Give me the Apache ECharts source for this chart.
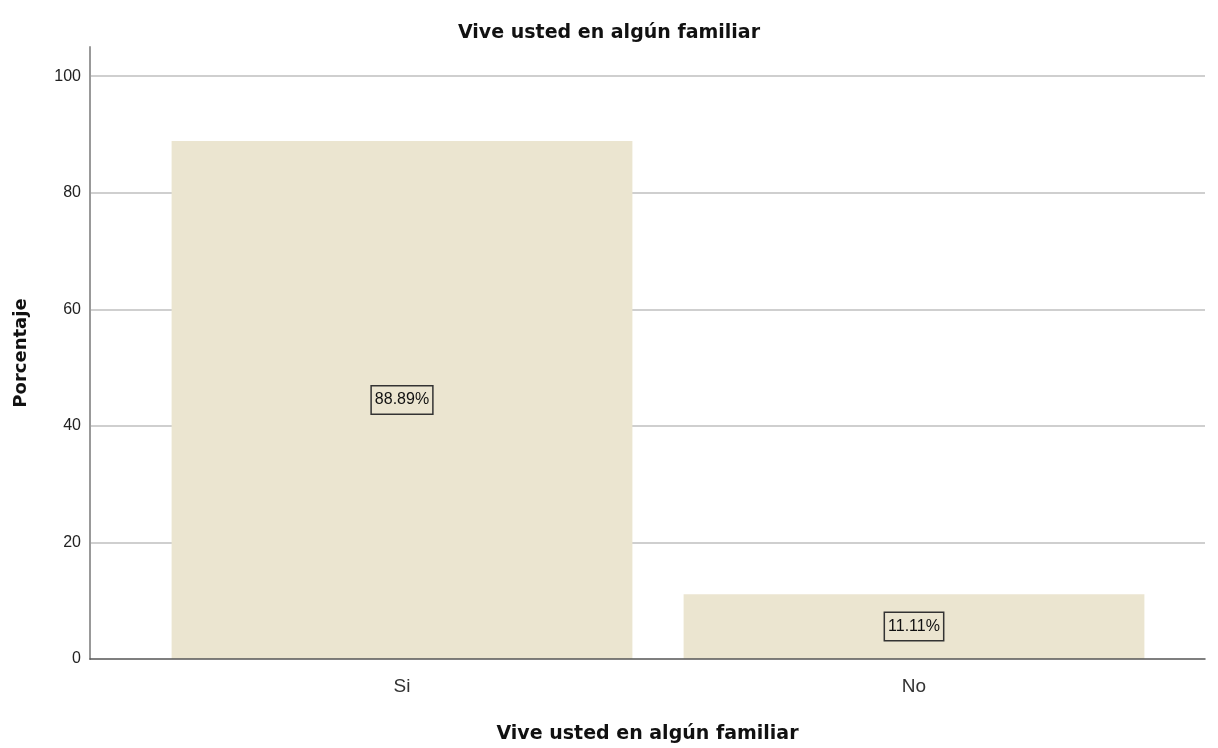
<!DOCTYPE html>
<html>
<head>
<meta charset="utf-8">
<script src="https://cdn.jsdelivr.net/npm/echarts@6/dist/echarts.min.js"></script>
<style>
    html, body { margin: 0; padding: 0; background: #fff; }
    #chart { width: 1218px; height: 748px; }
</style>
</head>
<body>
<div id="chart"></div>
<script>
const categories = ["Si", "No"];
const percentValues = [88.89, 11.11];
const yTicks = [0, 20, 40, 60, 80, 100];

const titleText = "Vive usted en algún familiar";
const yName = "Porcentaje";
const font = "'Liberation Sans', Arial, sans-serif";
const boldFont = "'DejaVu Sans', sans-serif";
const barColor = "#ebe5d0";
const yMax = 105;

const myChart = echarts.init(document.getElementById("chart"));

let option = {
    animation: false,
    textStyle: { fontFamily: font },
    title: {
        text: titleText,
        left: "center",
        top: 19,
        textStyle: { fontSize: 19, fontWeight: "bold", color: "#111", fontFamily: boldFont },
    },
    grid: [
        // frame: axis lines, split lines, tick labels
        { left: 90, right: 13, top: 47, bottom: 89, outerBoundsMode: "none" },
        // bars: narrower band as in the original
        { left: 146, right: 48, top: 47, bottom: 89, outerBoundsMode: "none" },
    ],
    xAxis: [
        {
            gridIndex: 0,
            type: "value",
            min: 0,
            max: 1,
            z: 5,
            axisLabel: { show: false },
            axisTick: { show: false },
            splitLine: { show: false },
            axisLine: { show: true, lineStyle: { color: "#555", width: 1.5 } },
            name: titleText,
            nameLocation: "middle",
            nameGap: 66,
            nameTextStyle: { fontSize: 19, fontWeight: "bold", color: "#111", fontFamily: boldFont },
        },
        {
            gridIndex: 1,
            type: "category",
            data: categories,
            axisLine: { show: false },
            axisTick: { show: false },
            axisLabel: { fontSize: 19, color: "#333", margin: 18 },
        },
    ],
    yAxis: [
        {
            gridIndex: 0,
            type: "value",
            min: 0,
            max: yMax,
            interval: 20,
            axisLine: { show: true, lineStyle: { color: "#999", width: 2 } },
            axisTick: { show: false },
            axisLabel: {
                fontSize: 16,
                color: "#222",
                margin: 9,
                showMaxLabel: false,
                formatter: (v) => (yTicks.includes(v) ? String(v) : ""),
            },
            splitLine: {
                show: true,
                showMinLine: false,
                showMaxLine: false,
                lineStyle: { color: "#cfcfcf", width: 2 },
            },
            name: yName,
            nameLocation: "middle",
            nameGap: 60,
            nameTextStyle: { fontSize: 18, fontWeight: "bold", color: "#111", fontFamily: boldFont },
        },
        {
            gridIndex: 1,
            type: "value",
            min: 0,
            max: yMax,
            show: false,
        },
    ],
    series: [
        {
            type: "bar",
            xAxisIndex: 1,
            yAxisIndex: 1,
            data: percentValues,
            barCategoryGap: "10%",
            itemStyle: { color: barColor },
            label: {
                show: true,
                position: "inside",
                formatter: (p) => p.value.toFixed(2) + "%",
                fontSize: 16,
                lineHeight: 16,
                color: "#111",
                backgroundColor: barColor,
                borderColor: "#333",
                borderWidth: 1.5,
                padding: [6, 3, 5, 3],
            },
        },
    ],
};

myChart.setOption(option);
</script>
</body>
</html>
